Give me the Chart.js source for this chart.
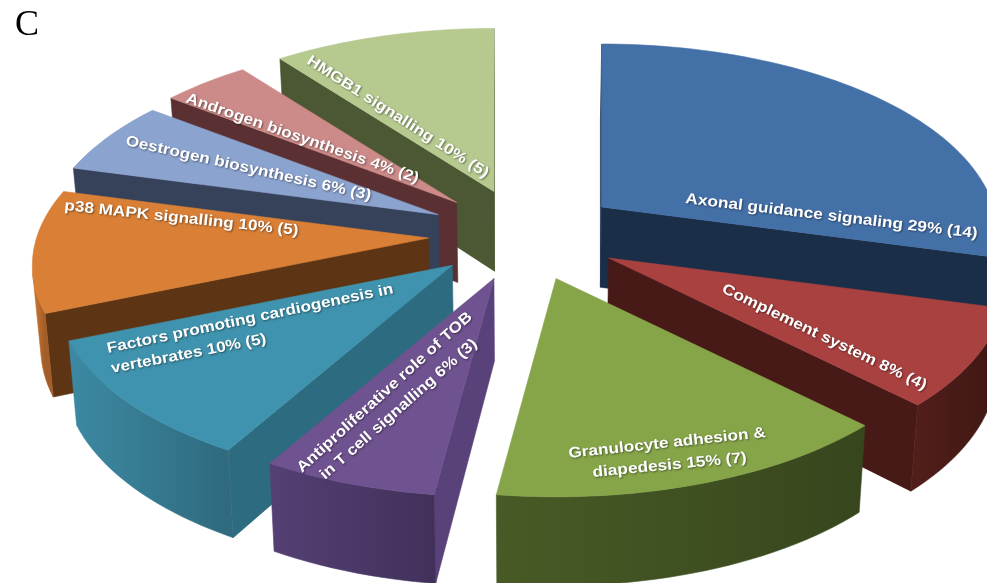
<!DOCTYPE html>
<html>
<head>
<meta charset="utf-8">
<style>
  body { margin: 0; background: #fff; }
  #wrap { position: relative; width: 987px; height: 583px; overflow: hidden; }
  #panel { position: absolute; left: 15px; top: 2px; font: 36px "Liberation Serif", serif; color: #000; }
</style>
<script src="https://cdn.jsdelivr.net/npm/chart.js@4"></script>
</head>
<body>
<div id="wrap">
  <canvas id="pie" width="987" height="583"></canvas>
  <div id="panel">C</div>
</div>
<script>
const categories = ['Axonal guidance signaling', 'Complement system', 'Granulocyte adhesion & diapedesis',
    'Antiproliferative role of TOB in T cell signalling', 'Factors promoting cardiogenesis in vertebrates',
    'p38 MAPK signalling', 'Oestrogen biosynthesis', 'Androgen biosynthesis', 'HMGB1 signalling'];
const geneCounts = [14, 4, 7, 3, 5, 5, 3, 2, 5];
const percents = [29, 8, 15, 6, 10, 10, 6, 4, 10];

const topColors = ['#4470a8', '#a94140', '#86a549', '#6f5290', '#3f93ae', '#d97f36', '#8ba3cf', '#cc8a88', '#b6c98f'];
const cutColors = ['#1a2e48', '#471a17', '#3f5021', '#59417a', '#2d6b80', '#5e3514', '#36415a', '#5a3032', '#4c5733'];
const wallColors = ['#1a2e48', '#471a17', '#3f5021', '#4a3866', '#35788f', '#b86a2d', '#36415a', '#5a3032', '#4c5733'];

// wrapped text lines and where each one runs on the page [x0, y0, x1, y1]
const labelLayout = [
    [[`Axonal guidance signaling ${percents[0]}% (${geneCounts[0]})`, 685, 203, 977, 238]],
    [[`Complement system ${percents[1]}% (${geneCounts[1]})`, 721, 292, 924, 390]],
    [['Granulocyte adhesion &', 569, 458, 766, 437], [`diapedesis ${percents[2]}% (${geneCounts[2]})`, 593, 477, 747, 462]],
    [['Antiproliferative role of TOB', 302, 473, 473, 318], [`in T cell signalling ${percents[3]}% (${geneCounts[3]})`, 325, 480, 478, 345]],
    [['Factors promoting cardiogenesis in', 108, 353, 394, 293], [`vertebrates ${percents[4]}% (${geneCounts[4]})`, 112, 373, 267, 343]],
    [[`p38 MAPK signalling ${percents[5]}% (${geneCounts[5]})`, 64, 210, 298, 235]],
    [[`Oestrogen biosynthesis ${percents[6]}% (${geneCounts[6]})`, 125, 145, 370, 200]],
    [[`Androgen biosynthesis ${percents[7]}% (${geneCounts[7]})`, 185, 102, 417, 183]],
    [[`HMGB1 signalling ${percents[8]}% (${geneCounts[8]})`, 306, 63, 485, 178]]
];

// tilted camera
const view = { hubX: 525, hubY: 235, sx: 392, sy: 186.6, persp: 0.145, depth: 83 };

function shade(hex, f) {
    const n = parseInt(hex.slice(1), 16);
    const c = [n >> 16, (n >> 8) & 255, n & 255].map(v => Math.min(255, Math.round(v * f)));
    return `rgb(${c[0]},${c[1]},${c[2]})`;
}

// clockwise angle from 12 o'clock, radius r as a fraction of the pie
function project(theta, r) {
    const w = 1 + view.persp * r * Math.cos(theta);
    return { x: view.sx * r * Math.sin(theta) / w, y: -view.sy * r * Math.cos(theta) / w };
}

function lower(p) {
    return { x: p.x - 0.017 * (p.x - view.hubX), y: p.y + view.depth + 0.03 * (p.y - 300) };
}

function signedArea(pts) {
    let a = 0;
    pts.forEach((p, i) => {
        const q = pts[(i + 1) % pts.length];
        a += p.x * q.y - q.x * p.y;
    });
    return a;
}

function fillPoly(ctx, pts, color) {
    ctx.beginPath();
    pts.forEach((p, i) => i ? ctx.lineTo(p.x, p.y) : ctx.moveTo(p.x, p.y));
    ctx.closePath();
    ctx.fillStyle = color;
    ctx.strokeStyle = color;
    ctx.lineWidth = 0.6;
    ctx.fill();
    ctx.stroke();
}

function drawWall(ctx, s) {
    const shown = [];
    for (let i = 0; i < s.rim.length - 1; i++) {
        const quad = [s.rim[i], s.rim[i + 1], lower(s.rim[i + 1]), lower(s.rim[i])];
        if (signedArea(quad) < 0) {
            if (!shown.length) shown.push(s.rim[i]);
            shown.push(s.rim[i + 1]);
        }
    }
    if (shown.length < 2) return;
    const left = shown[shown.length - 1];
    const right = shown[0];
    const grad = ctx.createLinearGradient(left.x, 0, right.x, 0);
    grad.addColorStop(0, shade(wallColors[s.index], 1.14));
    grad.addColorStop(1, shade(wallColors[s.index], 0.88));
    fillPoly(ctx, [...shown, ...shown.map(lower).reverse()], grad);
}

function drawSlice(ctx, s) {
    const apex = s.apex;
    const rim = s.rim;
    const last = rim.length - 1;
    const startFace = [apex, rim[0], lower(rim[0]), lower(apex)];
    const endFace = [apex, rim[last], lower(rim[last]), lower(apex)];
    if (signedArea(startFace) < 0) fillPoly(ctx, startFace, cutColors[s.index]);
    if (signedArea(endFace) > 0) fillPoly(ctx, endFace, cutColors[s.index]);
    drawWall(ctx, s);
    fillPoly(ctx, [apex, ...rim], topColors[s.index]);
}

function drawLabels(ctx) {
    ctx.fillStyle = '#fff';
    ctx.font = 'bold 15px "Liberation Sans", Arial, sans-serif';
    ctx.textBaseline = 'alphabetic';
    ctx.shadowColor = 'rgba(0,0,0,0.45)';
    ctx.shadowBlur = 2;
    ctx.shadowOffsetX = 1;
    ctx.shadowOffsetY = 1;
    labelLayout.flat().forEach(([text, x0, y0, x1, y1]) => {
        const len = Math.hypot(x1 - x0, y1 - y0);
        ctx.save();
        ctx.translate(x0, y0);
        ctx.rotate(Math.atan2(y1 - y0, x1 - x0));
        ctx.scale(len / ctx.measureText(text).width, 1);
        ctx.fillText(text, 0, 0);
        ctx.restore();
    });
}

const tiltedPie = {
    id: 'tiltedPie',
    beforeDatasetDraw(chart, args) {
        const ctx = chart.ctx;
        const arcs = chart.getDatasetMeta(args.index).data;
        const slices = arcs.map((el, index) => {
            const start = el.startAngle + Math.PI / 2;
            const end = el.endAngle + Math.PI / 2;
            const mid = (start + end) / 2;
            const e = el.options.offset / el.outerRadius;
            // exploded along the middle angle; the apex keeps the slice shape
            const apex = {
                x: view.hubX + view.sx * e * Math.sin(mid),
                y: view.hubY - view.sy * e * Math.cos(mid)
            };
            const steps = Math.max(6, Math.round((end - start) / 0.03));
            const rim = [];
            for (let i = 0; i <= steps; i++) {
                const p = project(start + (end - start) * i / steps, 1);
                rim.push({ x: apex.x + p.x, y: apex.y + p.y });
            }
            return { index, apex, rim };
        });
        slices.sort((a, b) => a.apex.y - b.apex.y);
        ctx.save();
        slices.forEach(s => drawSlice(ctx, s));
        drawLabels(ctx);
        ctx.restore();
        return false;
    }
};

new Chart(document.getElementById('pie').getContext('2d'), {
    type: 'pie',
    data: {
        labels: categories,
        datasets: [{
            data: geneCounts,
            backgroundColor: topColors,
            offset: 64,
            borderWidth: 0
        }]
    },
    options: {
        responsive: false,
        animation: false,
        plugins: { legend: { display: false }, tooltip: { enabled: false } }
    },
    plugins: [tiltedPie]
});
</script>
</body>
</html>
